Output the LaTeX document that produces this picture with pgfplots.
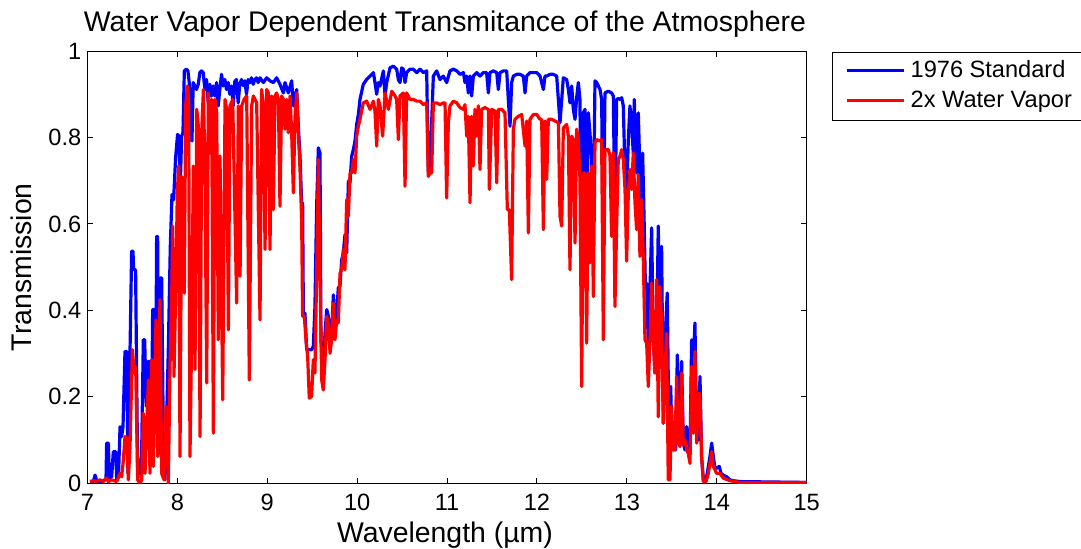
\documentclass[border=0pt]{standalone}
\usepackage{fontspec}
\setmainfont{Liberation Sans}
\usepackage{pgfplots}
\pgfplotsset{compat=1.18}
\begin{document}
\begin{tikzpicture}
\path[use as bounding box] (-43.75pt,-32.35pt) rectangle (496.75pt,241.65pt);
\begin{axis}[
 at={(0pt,0pt)}, anchor=south west,
 scale only axis, width=359.6pt, height=216.15pt,
 xmin=7, xmax=15, ymin=0, ymax=1,
 xtick={7,8,9,10,11,12,13,14,15}, ytick={0,0.2,0.4,0.6,0.8,1},
 tick align=inside, xtick pos=both, ytick pos=both, major tick length=2.8pt,
 axis line style={line width=0.5pt}, every tick/.style={black,line width=0.5pt},
 /pgf/number format/assume math mode=true,
 tick label style={font=\fontsize{11.8}{14}\selectfont},
 xticklabel style={anchor=base, inner sep=0pt, yshift=-13.35pt},
 yticklabel style={anchor=east, inner sep=0pt, xshift=-2.9pt},
 every axis title shift=0pt,
 title={Water Vapor Dependent Transmitance of the Atmosphere},
 title style={at={(axis description cs:0.497,1.044)}, anchor=base, inner sep=0pt, font=\fontsize{14.2}{17}\selectfont},
 xlabel={Wavelength (µm)},
 xlabel style={at={(axis description cs:0.497,-0.1358)}, anchor=base, inner sep=0pt, font=\fontsize{14.2}{17}\selectfont},
 ylabel={Transmission},
 ylabel style={at={(axis description cs:-0.0772,0.5)}, anchor=base, inner sep=0pt, font=\fontsize{14.2}{17}\selectfont},
 legend style={at={(axis description cs:1.0351,0.9977)}, anchor=north west, draw=black, line width=0.5pt, fill=white,
   font=\fontsize{11.8}{14}\selectfont, inner xsep=6.5pt, inner ysep=4pt, row sep=4pt, column sep=2.5pt,
   nodes={inner sep=0pt, text height=8.5pt, text depth=2.5pt, anchor=base west}},
 legend cell align=left,
 legend image code/.code={\draw[#1] (0pt,3.5pt) -- (28.5pt,3.5pt);},
 every axis plot/.append style={line width=1.6pt, line join=round},
]
\addplot[blue] coordinates {
(7.028,0.004) (7.065,0.004) (7.084,0.019) (7.102,0.006) (7.139,0.004) (7.176,0.006) (7.206,0.010) (7.213,0.093) (7.232,0.093) (7.243,0.012)
(7.269,0.015) (7.287,0.073) (7.314,0.073) (7.325,0.008) (7.347,0.031) (7.362,0.131) (7.380,0.108) (7.395,0.131) (7.417,0.305) (7.436,0.305)
(7.451,0.023) (7.469,0.255) (7.491,0.537) (7.506,0.537) (7.513,0.494) (7.535,0.494) (7.558,0.023) (7.580,0.054) (7.598,0.008) (7.621,0.332)
(7.636,0.332) (7.654,0.178) (7.673,0.282) (7.688,0.282) (7.710,0.100) (7.725,0.402) (7.740,0.402) (7.758,0.178) (7.769,0.571) (7.780,0.571)
(7.795,0.069) (7.810,0.475) (7.825,0.475) (7.847,0.039) (7.862,0.008) (7.884,0.178) (7.899,0.309) (7.921,0.548) (7.940,0.668) (7.958,0.656)
(7.980,0.753) (8.002,0.807) (8.017,0.803) (8.032,0.687) (8.047,0.803) (8.062,0.811) (8.077,0.954) (8.099,0.958) (8.117,0.954) (8.136,0.919)
(8.147,0.795) (8.162,0.792) (8.176,0.927) (8.195,0.919) (8.213,0.911) (8.232,0.923) (8.250,0.950) (8.269,0.954) (8.287,0.950) (8.306,0.911)
(8.324,0.934) (8.343,0.880) (8.361,0.923) (8.380,0.896) (8.398,0.919) (8.417,0.896) (8.435,0.927) (8.454,0.873) (8.472,0.911) (8.491,0.946)
(8.509,0.919) (8.528,0.934) (8.546,0.911) (8.565,0.927) (8.583,0.900) (8.602,0.919) (8.620,0.873) (8.639,0.930) (8.657,0.934) (8.676,0.880)
(8.694,0.923) (8.713,0.934) (8.731,0.920) (8.750,0.931) (8.769,0.900) (8.787,0.934) (8.806,0.927) (8.824,0.938) (8.843,0.923) (8.861,0.934)
(8.880,0.938) (8.898,0.927)
(8.919,0.938) (8.956,0.927) (8.993,0.938) (9.030,0.931) (9.067,0.927) (9.104,0.938) (9.141,0.923) (9.179,0.903) (9.197,0.927) (9.234,0.903)
(9.271,0.931) (9.290,0.873) (9.308,0.896) (9.327,0.911) (9.345,0.826) (9.364,0.757) (9.382,0.649) (9.393,0.649) (9.401,0.394) (9.419,0.394)
(9.438,0.309) (9.456,0.309) (9.475,0.309) (9.493,0.309) (9.512,0.317) (9.530,0.409) (9.549,0.641) (9.568,0.776) (9.586,0.764) (9.597,0.332)
(9.616,0.255) (9.642,0.347) (9.661,0.402) (9.679,0.386) (9.698,0.347) (9.716,0.347) (9.735,0.436) (9.753,0.378) (9.772,0.394) (9.790,0.452)
(9.809,0.456) (9.827,0.517) (9.846,0.533) (9.864,0.575) (9.883,0.533) (9.902,0.699) (9.920,0.695) (9.939,0.757) (9.957,0.772) (9.976,0.792)
(9.994,0.830) (10.013,0.853) (10.031,0.888) (10.068,0.923) (10.105,0.934) (10.143,0.942) (10.180,0.950) (10.198,0.927) (10.217,0.900) (10.235,0.927)
(10.254,0.919) (10.291,0.954) (10.310,0.896) (10.328,0.927) (10.365,0.961) (10.402,0.965) (10.439,0.958) (10.458,0.934) (10.476,0.927) (10.495,0.961)
(10.513,0.958) (10.532,0.927) (10.550,0.950) (10.587,0.958) (10.624,0.958) (10.662,0.950) (10.699,0.958) (10.736,0.950) (10.773,0.954) (10.791,0.720)
(10.810,0.730)
(10.847,0.942) (10.884,0.954) (10.921,0.934) (10.958,0.942) (10.995,0.927) (11.032,0.954) (11.070,0.958) (11.107,0.954) (11.144,0.946) (11.181,0.950)
(11.199,0.927) (11.218,0.942) (11.236,0.903) (11.255,0.942) (11.273,0.896) (11.292,0.942) (11.329,0.950) (11.366,0.942) (11.403,0.950) (11.440,0.950)
(11.459,0.903) (11.477,0.950) (11.514,0.954) (11.552,0.950) (11.570,0.911) (11.589,0.950) (11.626,0.954) (11.663,0.954) (11.681,0.888) (11.700,0.826)
(11.718,0.927) (11.737,0.942) (11.774,0.946) (11.811,0.946) (11.848,0.942) (11.867,0.903) (11.885,0.942) (11.922,0.950) (11.959,0.950) (11.997,0.950)
(12.034,0.942) (12.071,0.911) (12.089,0.942) (12.108,0.942) (12.145,0.946) (12.182,0.946) (12.219,0.942) (12.256,0.834) (12.293,0.938) (12.330,0.934)
(12.349,0.911) (12.367,0.880) (12.386,0.919) (12.404,0.865) (12.423,0.842) (12.441,0.892) (12.460,0.927) (12.478,0.888) (12.497,0.370) (12.515,0.857)
(12.534,0.865) (12.552,0.500) (12.571,0.857) (12.589,0.811) (12.608,0.749) (12.627,0.600) (12.645,0.931) (12.664,0.927) (12.701,0.911) (12.719,0.888)
(12.738,0.550) (12.756,0.903) (12.793,0.907) (12.830,0.903) (12.849,0.896) (12.867,0.600) (12.886,0.888) (12.904,0.890)
(12.923,0.888) (12.942,0.892) (12.960,0.873) (12.979,0.718) (12.997,0.672) (13.016,0.795) (13.034,0.873) (13.053,0.826) (13.071,0.764) (13.082,0.888)
(13.097,0.772) (13.108,0.718) (13.127,0.857) (13.145,0.718) (13.157,0.625) (13.175,0.764) (13.190,0.625) (13.205,0.463) (13.220,0.463) (13.238,0.317)
(13.257,0.448) (13.275,0.591) (13.294,0.332) (13.312,0.255) (13.331,0.332) (13.349,0.595) (13.368,0.332) (13.386,0.548) (13.405,0.139) (13.423,0.332)
(13.449,0.440) (13.472,0.023) (13.487,0.224) (13.505,0.077) (13.524,0.085) (13.542,0.077) (13.561,0.297) (13.579,0.100) (13.609,0.282) (13.627,0.093)
(13.646,0.077) (13.665,0.131) (13.683,0.100) (13.702,0.069) (13.720,0.332) (13.739,0.286) (13.757,0.371) (13.776,0.108) (13.794,0.100) (13.813,0.247)
(13.831,0.062) (13.850,0.008) (13.868,0.000) (13.894,0.023) (13.924,0.062) (13.943,0.093) (13.961,0.062) (13.980,0.035) (13.998,0.035) (14.028,0.039)
(14.046,0.023) (14.072,0.019) (14.110,0.015) (14.147,0.008) (14.184,0.006) (14.258,0.004) (15.000,0.002)
};
\addlegendentry{1976 Standard}
\addplot[red] coordinates {
(7.028,0.004) (7.065,0.006) (7.102,0.004) (7.139,0.008) (7.176,0.004) (7.213,0.012) (7.232,0.004) (7.269,0.008) (7.325,0.004) (7.362,0.023)
(7.380,0.015) (7.399,0.054) (7.417,0.108) (7.436,0.108) (7.454,0.008) (7.473,0.085) (7.499,0.309) (7.521,0.255) (7.536,0.270) (7.558,0.008)
(7.584,0.000) (7.603,0.008) (7.621,0.162) (7.640,0.023) (7.677,0.239) (7.695,0.023) (7.714,0.286) (7.732,0.039) (7.762,0.378) (7.781,0.062)
(7.806,0.425) (7.825,0.023) (7.851,0.008) (7.873,0.178) (7.899,0.000) (7.918,0.270) (7.936,0.425) (7.948,0.595) (7.962,0.247) (7.985,0.486)
(7.999,0.672) (8.014,0.734) (8.029,0.062) (8.048,0.710) (8.077,0.440) (8.092,0.873) (8.111,0.919) (8.125,0.888) (8.140,0.062) (8.159,0.347)
(8.177,0.734) (8.196,0.263) (8.215,0.865) (8.233,0.826) (8.252,0.108) (8.270,0.811) (8.289,0.911) (8.307,0.718) (8.326,0.232) (8.344,0.903)
(8.363,0.764) (8.381,0.888) (8.400,0.116) (8.418,0.888) (8.437,0.857) (8.455,0.332) (8.474,0.757) (8.504,0.193) (8.530,0.888) (8.548,0.865)
(8.567,0.355) (8.585,0.873) (8.615,0.888) (8.659,0.417) (8.678,0.873) (8.697,0.479) (8.715,0.873) (8.741,0.888) (8.771,0.896) (8.800,0.239)
(8.826,0.873) (8.845,0.896) (8.882,0.880) (8.919,0.378)
(8.937,0.911) (8.956,0.873) (8.975,0.541) (8.993,0.911) (9.012,0.903) (9.030,0.541) (9.049,0.896) (9.067,0.633) (9.086,0.896) (9.104,0.903)
(9.123,0.888) (9.141,0.641) (9.160,0.896) (9.179,0.888) (9.197,0.819) (9.216,0.888) (9.234,0.811) (9.253,0.896) (9.271,0.811) (9.290,0.672)
(9.308,0.849) (9.327,0.903) (9.345,0.811) (9.364,0.726) (9.382,0.610) (9.393,0.386) (9.412,0.386) (9.430,0.332) (9.449,0.293) (9.467,0.197)
(9.493,0.201) (9.512,0.286) (9.530,0.255) (9.549,0.486) (9.568,0.749) (9.586,0.486) (9.605,0.239) (9.623,0.216) (9.642,0.286) (9.661,0.386)
(9.679,0.371) (9.698,0.301) (9.716,0.332) (9.735,0.417) (9.753,0.332) (9.772,0.378) (9.790,0.371) (9.809,0.486) (9.827,0.494) (9.846,0.541)
(9.864,0.494) (9.883,0.656) (9.902,0.618) (9.920,0.718) (9.939,0.718) (9.957,0.749) (9.976,0.718) (9.994,0.803) (10.013,0.826) (10.031,0.842)
(10.068,0.880) (10.105,0.884) (10.143,0.865) (10.180,0.884) (10.198,0.860) (10.217,0.780) (10.235,0.888) (10.254,0.873) (10.283,0.803) (10.310,0.903)
(10.347,0.865) (10.384,0.907) (10.421,0.896) (10.439,0.888) (10.458,0.795) (10.476,0.896) (10.513,0.903) (10.532,0.687) (10.550,0.903) (10.587,0.888)
(10.624,0.888) (10.662,0.884) (10.699,0.884) (10.736,0.876) (10.773,0.880) (10.791,0.710) (10.810,0.718) (10.829,0.718)
(10.847,0.880) (10.884,0.880) (10.921,0.876) (10.958,0.880) (10.977,0.880) (10.995,0.660) (11.014,0.834) (11.032,0.873) (11.070,0.884) (11.107,0.880)
(11.144,0.869) (11.181,0.865) (11.199,0.876) (11.218,0.803) (11.236,0.849) (11.255,0.649) (11.273,0.849) (11.292,0.734) (11.310,0.865) (11.329,0.803)
(11.347,0.873) (11.366,0.726) (11.384,0.865) (11.421,0.869) (11.459,0.865) (11.470,0.680) (11.496,0.865) (11.533,0.861) (11.552,0.695) (11.570,0.865)
(11.607,0.865) (11.644,0.857) (11.670,0.633) (11.692,0.633) (11.718,0.471) (11.737,0.819) (11.755,0.842) (11.792,0.849) (11.830,0.853) (11.867,0.780)
(11.885,0.838) (11.904,0.579) (11.922,0.842) (11.959,0.853) (11.997,0.853) (12.034,0.842) (12.052,0.842) (12.071,0.587) (12.089,0.838) (12.108,0.703)
(12.126,0.842) (12.163,0.842) (12.201,0.838) (12.238,0.834) (12.256,0.618) (12.275,0.595) (12.293,0.822) (12.330,0.830) (12.349,0.803) (12.367,0.494)
(12.386,0.803) (12.404,0.795) (12.423,0.556) (12.441,0.819) (12.460,0.795) (12.478,0.703) (12.497,0.224) (12.515,0.718) (12.534,0.718) (12.552,0.324)
(12.571,0.718) (12.589,0.510) (12.608,0.734) (12.627,0.432) (12.645,0.788) (12.664,0.795) (12.701,0.792) (12.719,0.795) (12.738,0.332) (12.756,0.772)
(12.793,0.772) (12.812,0.757) (12.830,0.571) (12.849,0.765) (12.867,0.409) (12.886,0.595) (12.904,0.749)
(12.923,0.757) (12.942,0.772) (12.960,0.749) (12.979,0.680) (12.997,0.514) (13.016,0.672) (13.034,0.726) (13.053,0.680) (13.071,0.764) (13.090,0.649)
(13.108,0.587) (13.127,0.714) (13.145,0.525) (13.164,0.656) (13.182,0.525) (13.201,0.332) (13.220,0.324) (13.238,0.224) (13.257,0.332) (13.275,0.463)
(13.294,0.332) (13.312,0.255) (13.331,0.471) (13.349,0.154) (13.368,0.456) (13.386,0.371) (13.405,0.139) (13.423,0.255) (13.442,0.347) (13.460,0.008)
(13.479,0.008) (13.497,0.178) (13.516,0.077) (13.535,0.077) (13.553,0.247) (13.572,0.093) (13.590,0.085) (13.609,0.255) (13.627,0.089) (13.646,0.100)
(13.665,0.077) (13.683,0.069) (13.702,0.046) (13.720,0.270) (13.739,0.116) (13.757,0.305) (13.776,0.093) (13.794,0.208) (13.813,0.208) (13.831,0.062)
(13.850,0.004) (13.880,0.004) (13.906,0.023) (13.924,0.046) (13.943,0.073) (13.961,0.039) (13.980,0.031) (13.998,0.023) (14.035,0.023) (14.072,0.012)
(14.147,0.006) (14.258,0.002) (15.000,0.002)
};
\addlegendentry{2x Water Vapor}
\end{axis}
\end{tikzpicture}
\end{document}
